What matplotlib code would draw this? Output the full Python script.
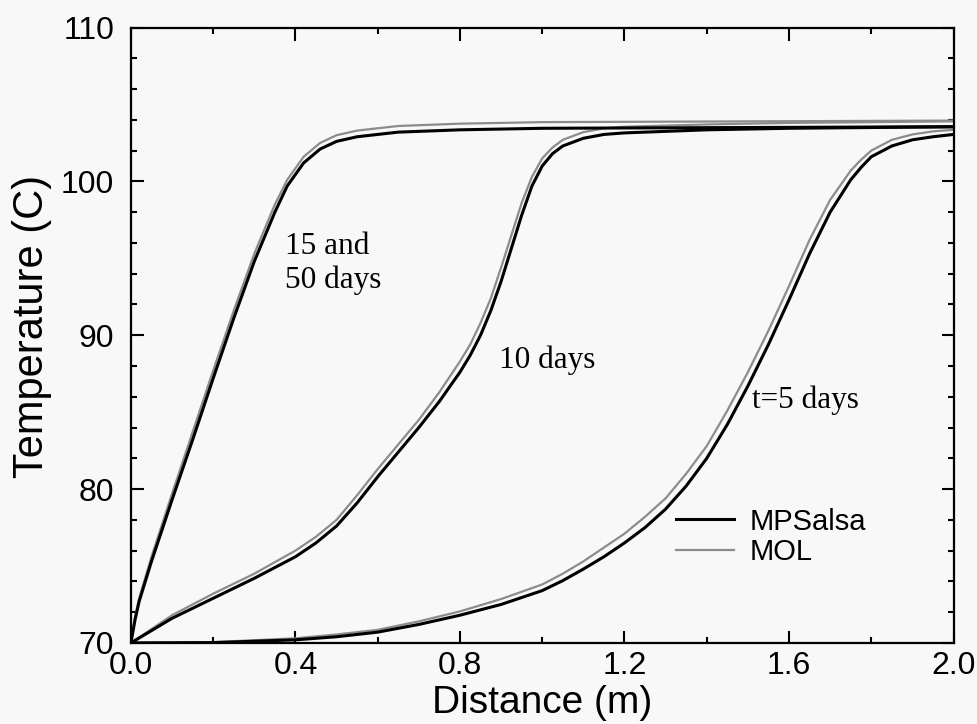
# Temperature profiles: MPSalsa vs MOL at several times
import matplotlib.pyplot as plt
from matplotlib.ticker import MultipleLocator

# 15 and 50 days
x_15 = [0, 0.01, 0.02, 0.05, 0.1, 0.15, 0.2, 0.25, 0.3, 0.35, 0.38, 0.42, 0.46, 0.5, 0.55, 0.65, 0.8, 1.0, 1.5, 2.0]
t_15_mpsalsa = [70, 71.5, 72.7, 75.3, 79.3, 83.2, 87.2, 91.1, 94.8, 98.0, 99.7, 101.2, 102.1, 102.6, 102.9, 103.2, 103.35, 103.45, 103.5, 103.55]
t_15_mol = [70, 71.7, 72.9, 75.6, 79.7, 83.7, 87.7, 91.6, 95.3, 98.5, 100.1, 101.6, 102.5, 103.0, 103.3, 103.6, 103.75, 103.85, 103.9, 103.95]

# 10 days
x_10 = [0, 0.1, 0.2, 0.3, 0.4, 0.45, 0.5, 0.55, 0.6, 0.65, 0.7, 0.75, 0.8, 0.825, 0.85, 0.875, 0.9, 0.95, 0.975,
        1.0, 1.025, 1.05, 1.1, 1.15, 1.2, 1.4, 1.6, 2.0]
t_10_mpsalsa = [70, 71.6, 72.9, 74.2, 75.6, 76.5, 77.6, 79.1, 80.8, 82.4, 84.0, 85.7, 87.6, 88.7, 90.0, 91.6, 93.5, 97.8, 99.7,
                101.0, 101.8, 102.3, 102.8, 103.05, 103.15, 103.35, 103.45, 103.55]
t_10_mol = [70, 71.8, 73.2, 74.5, 76.0, 76.9, 78.0, 79.6, 81.3, 82.9, 84.5, 86.3, 88.3, 89.4, 90.8, 92.4, 94.4, 98.6, 100.3,
            101.5, 102.2, 102.7, 103.2, 103.45, 103.55, 103.7, 103.8, 103.9]

# t = 5 days
x_5 = [0, 0.2, 0.4, 0.5, 0.6, 0.7, 0.8, 0.9, 1.0, 1.05, 1.1, 1.15, 1.2, 1.25, 1.3, 1.35, 1.4, 1.45, 1.5, 1.55, 1.6,
       1.65, 1.7, 1.75, 1.775, 1.8, 1.85, 1.9, 1.95, 2.0]
t_5_mpsalsa = [70, 70.02, 70.2, 70.4, 70.7, 71.2, 71.8, 72.5, 73.4, 74.05, 74.8, 75.6, 76.5, 77.5, 78.7, 80.2, 82.0, 84.2, 86.7,
               89.4, 92.3, 95.3, 98.0, 100.1, 100.9, 101.6, 102.3, 102.7, 102.9, 103.05]
t_5_mol = [70, 70.05, 70.3, 70.55, 70.85, 71.4, 72.05, 72.85, 73.8, 74.5, 75.3, 76.2, 77.1, 78.2, 79.4, 81.0, 82.8, 85.1, 87.6,
           90.3, 93.2, 96.2, 98.8, 100.7, 101.4, 102.0, 102.7, 103.05, 103.25, 103.35]

curves = [(x_15, t_15_mpsalsa, t_15_mol), (x_10, t_10_mpsalsa, t_10_mol), (x_5, t_5_mpsalsa, t_5_mol)]

bg = '#f8f8f8'
fig = plt.figure(figsize=(9.77, 7.24), dpi=100, facecolor=bg)
ax = fig.add_axes([0.134, 0.112, 0.842, 0.850], facecolor=bg)

for i, (xs, t_mps, t_mol) in enumerate(curves):
    ax.plot(xs, t_mol, color='0.55', lw=1.6, label='MOL' if i == 0 else None, zorder=2)
    ax.plot(xs, t_mps, color='black', lw=2.2, label='MPSalsa' if i == 0 else None, zorder=3)

ax.set_xlim(0, 2.0)
ax.set_ylim(70, 110)
ax.xaxis.set_major_locator(MultipleLocator(0.4))
ax.xaxis.set_minor_locator(MultipleLocator(0.2))
ax.yaxis.set_major_locator(MultipleLocator(10))
ax.yaxis.set_minor_locator(MultipleLocator(2))
ax.set_xticklabels([f'{v:.1f}' for v in ax.get_xticks()])
ax.tick_params(which='both', direction='in', top=True, right=True, width=1.5)
ax.tick_params(which='major', length=9)
ax.tick_params(which='minor', length=4.5)
ax.tick_params(axis='x', pad=6, labelsize=23)
ax.tick_params(axis='y', pad=12, labelsize=23)
for sp in ax.spines.values():
    sp.set_linewidth(1.6)

font = 'Liberation Sans'
for lbl in ax.get_xticklabels() + ax.get_yticklabels():
    lbl.set_family(font)
ax.set_xlabel('Distance (m)', fontsize=28, family=font, labelpad=3)
ax.set_ylabel('Temperature (C)', fontsize=30, family=font)
ax.yaxis.set_label_coords(-0.096, 0.515)

serif = 'Liberation Serif'
ax.text(0.374, 94.65, '15 and\n50 days', fontsize=22.5, family=serif, va='center', linespacing=1.2)
ax.text(0.895, 88.4, '10 days', fontsize=22.5, family=serif, va='center')
ax.text(1.509, 85.8, 't=5 days', fontsize=22.5, family=serif, va='center')

handles, labels = ax.get_legend_handles_labels()
order = [labels.index('MPSalsa'), labels.index('MOL')]
ax.legend([handles[k] for k in order], [labels[k] for k in order],
          loc='upper left', bbox_to_anchor=(0.662, 0.22), frameon=False,
          borderpad=0, borderaxespad=0, handlelength=2.0, handletextpad=0.55,
          labelspacing=0.1, prop={'family': font, 'size': 21})

fig.savefig('out.png', dpi=100, facecolor=bg)
